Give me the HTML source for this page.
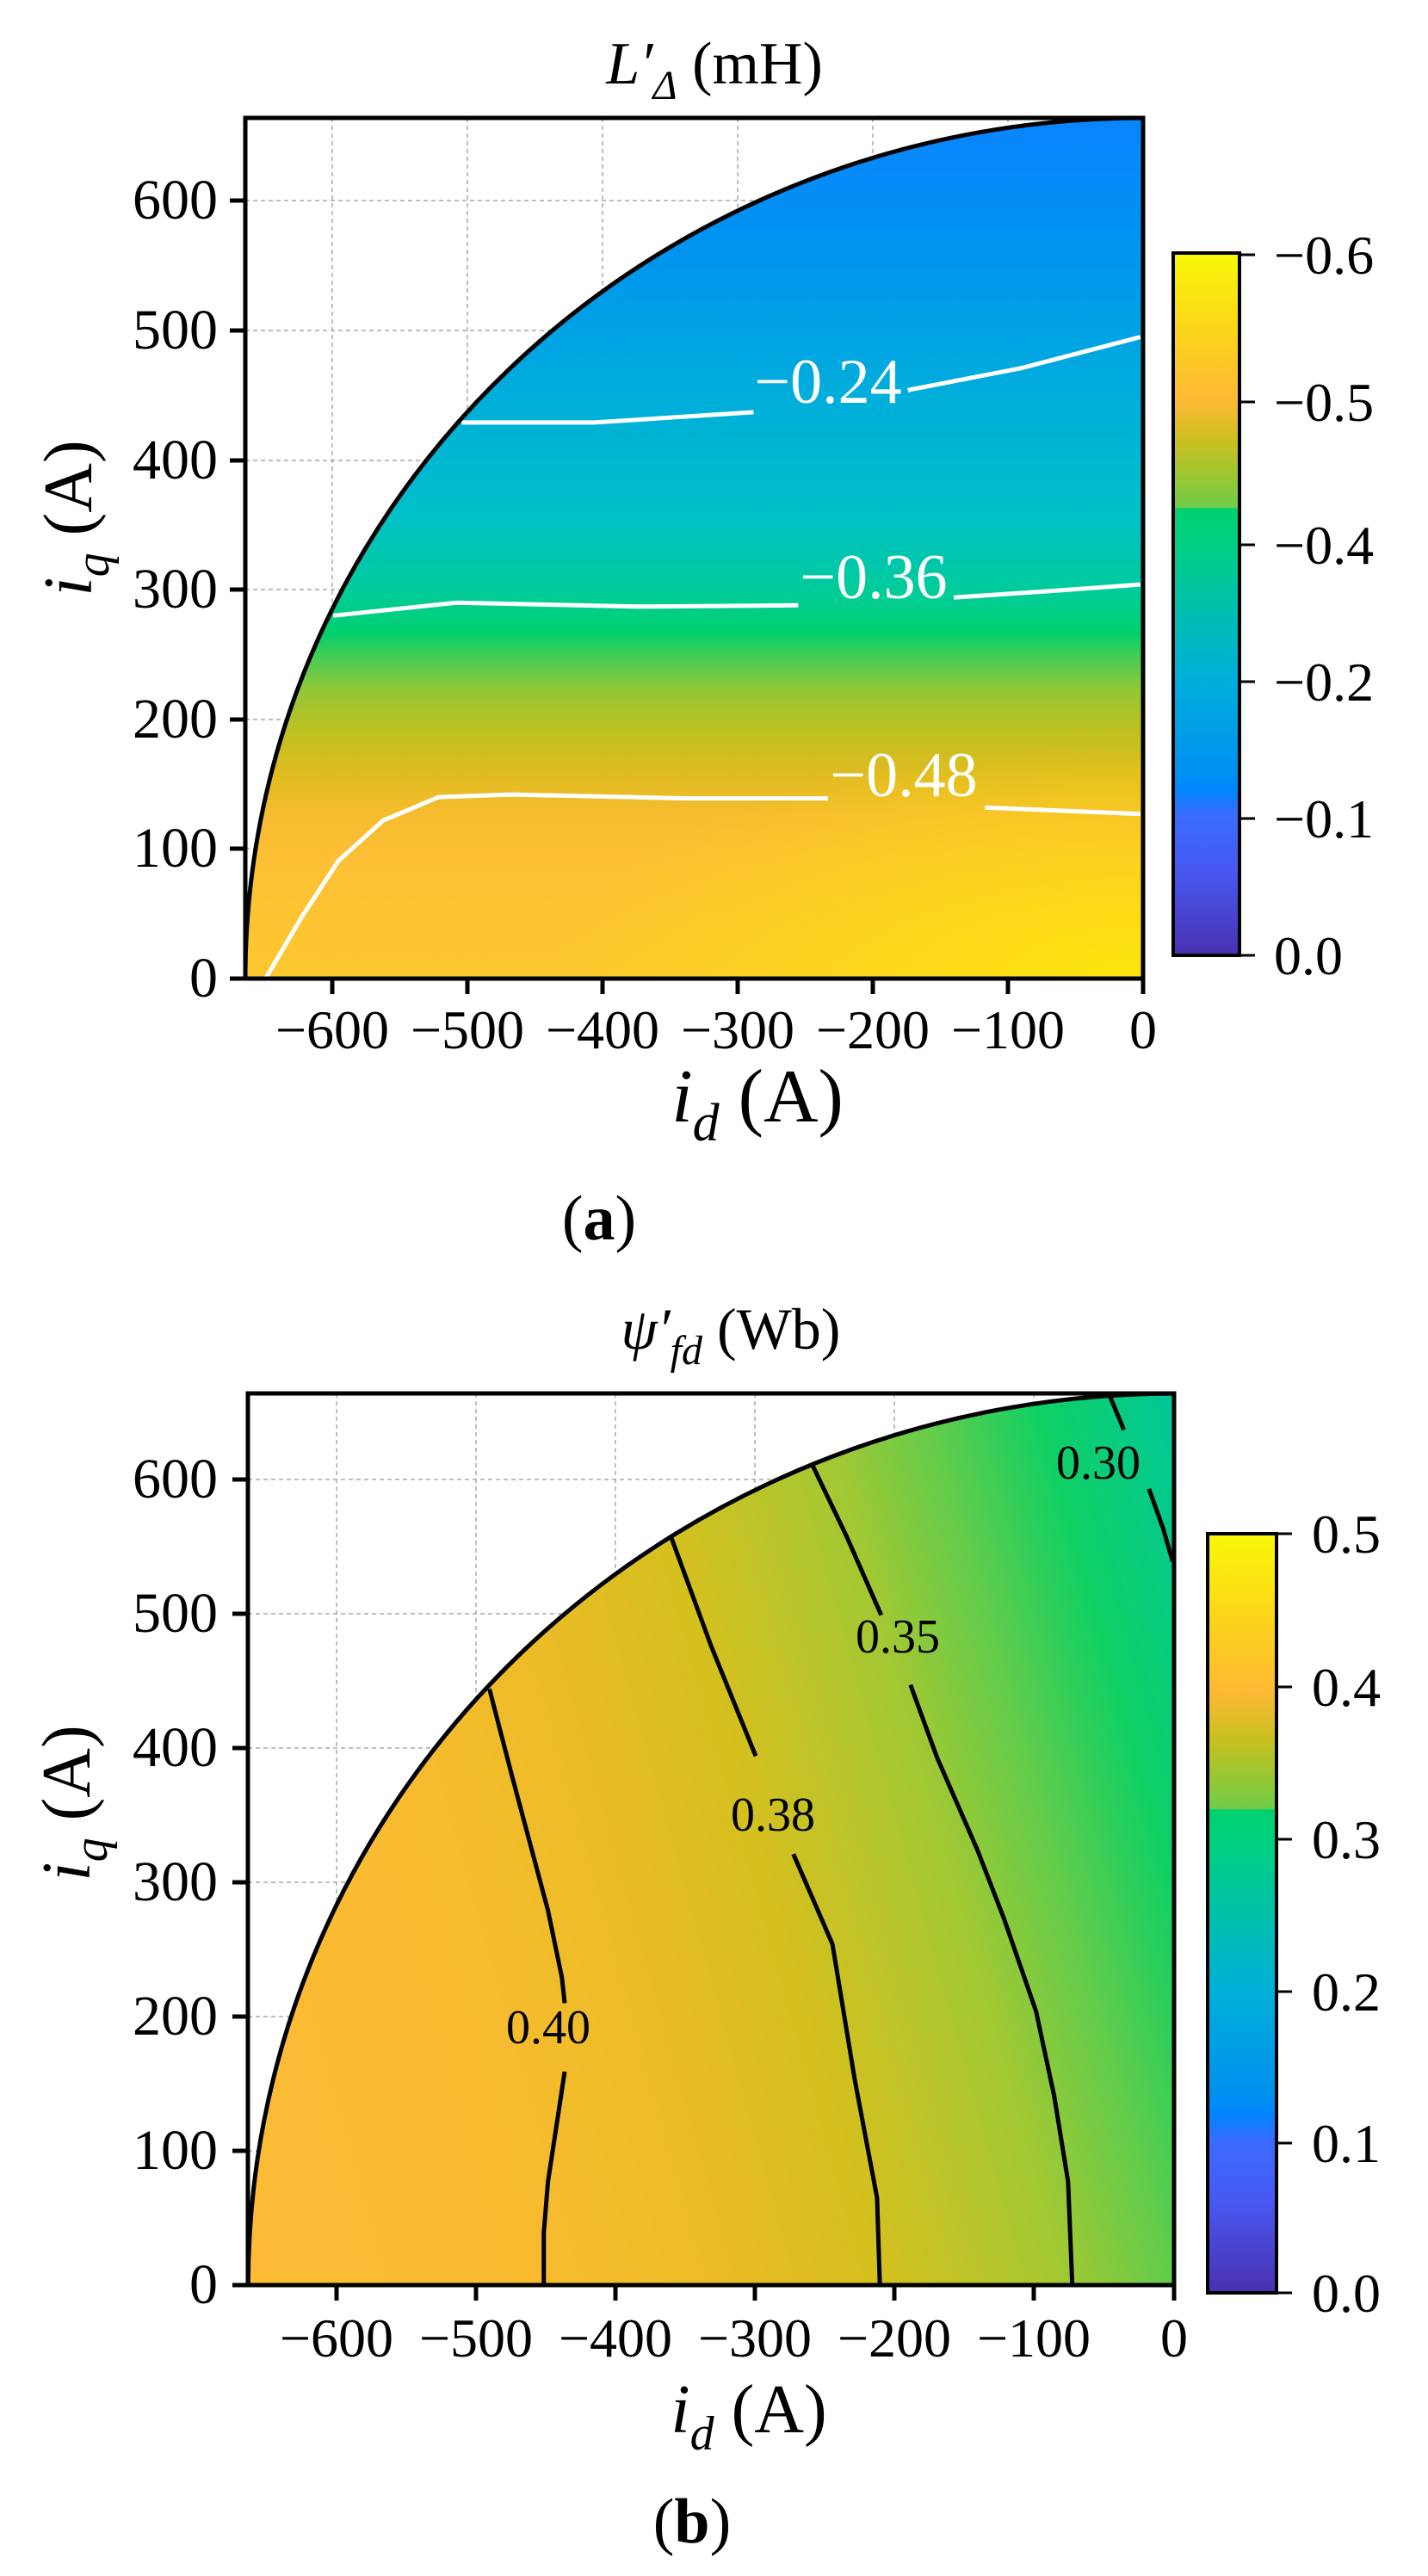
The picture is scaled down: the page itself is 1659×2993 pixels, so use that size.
<!DOCTYPE html>
<html><head><meta charset="utf-8"><style>
html,body{margin:0;padding:0;background:#fff;}
svg{display:block;font-family:"Liberation Serif",serif;}
</style></head><body>
<svg width="1659" height="2993" viewBox="0 0 1659 2993" xmlns="http://www.w3.org/2000/svg">
<defs>
  <linearGradient id="gA" gradientUnits="userSpaceOnUse" x1="0" y1="664" x2="0" y2="0">
    <stop offset="0" stop-color="#0a84ff"/>
    <stop offset="0.163" stop-color="#0095ee"/>
    <stop offset="0.313" stop-color="#00acdc"/>
    <stop offset="0.463" stop-color="#00c0c8"/>
    <stop offset="0.553" stop-color="#00cc98"/>
    <stop offset="0.598" stop-color="#00d070"/>
    <stop offset="0.623" stop-color="#40cc58"/>
    <stop offset="0.663" stop-color="#90c838"/>
    <stop offset="0.713" stop-color="#c0c020"/>
    <stop offset="0.763" stop-color="#e0bc20"/>
    <stop offset="0.813" stop-color="#f8bc30"/>
    <stop offset="0.863" stop-color="#fdc034"/>
    <stop offset="1" stop-color="#fdc830"/>
  </linearGradient>
  <radialGradient id="gAy" gradientUnits="userSpaceOnUse" cx="0" cy="0" r="400" gradientTransform="scale(1.1 0.45)">
    <stop offset="0" stop-color="#fce40c" stop-opacity="1"/>
    <stop offset="1" stop-color="#fce40c" stop-opacity="0"/>
  </radialGradient>
  <linearGradient id="gB" gradientUnits="userSpaceOnUse" x1="-619" y1="-167" x2="167" y2="45">
    <stop offset="0" stop-color="#fdbb36"/>
    <stop offset="0.25" stop-color="#f8bb30"/>
    <stop offset="0.4" stop-color="#ecbc26"/>
    <stop offset="0.54" stop-color="#d4c01e"/>
    <stop offset="0.62" stop-color="#bcc42a"/>
    <stop offset="0.7" stop-color="#a0c834"/>
    <stop offset="0.79" stop-color="#60cc4c"/>
    <stop offset="0.88" stop-color="#10d064"/>
    <stop offset="1" stop-color="#00c898"/>
  </linearGradient>
  <linearGradient id="cbA" x1="0" y1="0" x2="0" y2="1">
    <stop offset="0" stop-color="#f8f808"/>
    <stop offset="0.10" stop-color="#fcd818"/>
    <stop offset="0.21" stop-color="#fdb935"/>
    <stop offset="0.27" stop-color="#c8c020"/>
    <stop offset="0.33" stop-color="#90c838"/>
    <stop offset="0.362" stop-color="#70cc48"/>
    <stop offset="0.364" stop-color="#00d070"/>
    <stop offset="0.41" stop-color="#00d080"/>
    <stop offset="0.6" stop-color="#00b0d8"/>
    <stop offset="0.74" stop-color="#0090f0"/>
    <stop offset="0.765" stop-color="#0084ff"/>
    <stop offset="0.8" stop-color="#3a6cff"/>
    <stop offset="0.88" stop-color="#4858f0"/>
    <stop offset="1" stop-color="#4a30b0"/>
  </linearGradient>
</defs>

<!-- ========== PLOT A ========== -->
<g stroke="#aaa" stroke-width="1.5" stroke-dasharray="5,4">
  <line x1="386" y1="137" x2="386" y2="1137"/><line x1="543" y1="137" x2="543" y2="1137"/>
  <line x1="700" y1="137" x2="700" y2="1137"/><line x1="857" y1="137" x2="857" y2="1137"/>
  <line x1="1014" y1="137" x2="1014" y2="1137"/><line x1="1171" y1="137" x2="1171" y2="1137"/>
  <line x1="285" y1="986" x2="1328" y2="986"/><line x1="285" y1="836" x2="1328" y2="836"/>
  <line x1="285" y1="685" x2="1328" y2="685"/><line x1="285" y1="535" x2="1328" y2="535"/>
  <line x1="285" y1="384" x2="1328" y2="384"/><line x1="285" y1="233" x2="1328" y2="233"/>
</g>
<g transform="translate(1328 1137) scale(1.5708 -1.506)">
  <path d="M-664 0 A664 664 0 0 0 0 664 L0 0 Z" fill="url(#gA)"/>
  <path d="M-664 0 A664 664 0 0 0 0 664 L0 0 Z" fill="url(#gAy)"/>
  <g fill="none" stroke="#fff" stroke-width="5" stroke-linejoin="round">
    <polyline vector-effect="non-scaling-stroke" points="-504,429 -406,429 -288,437"/>
    <polyline vector-effect="non-scaling-stroke" points="-174,454 -90,471 -2,495"/>
    <polyline vector-effect="non-scaling-stroke" points="-599,280 -508,290 -373,287 -255,288"/>
    <polyline vector-effect="non-scaling-stroke" points="-140,294 -69,299 -2,304"/>
    <polyline vector-effect="non-scaling-stroke" points="-649,0 -622,48 -595,91 -562,122 -521,140 -467,142 -339,139 -233,139"/>
    <polyline vector-effect="non-scaling-stroke" points="-117,132 -2,127"/>
  </g>
  <path d="M-664 0 A664 664 0 0 0 0 664" fill="none" stroke="#000" stroke-width="5" vector-effect="non-scaling-stroke"/>
</g>
<g fill="#fff" font-size="74" text-anchor="middle">
  <text x="962" y="468">−0.24</text>
  <text x="1015" y="695">−0.36</text>
  <text x="1050" y="925">−0.48</text>
</g>
<rect x="285" y="137" width="1043" height="1000" fill="none" stroke="#000" stroke-width="5"/>
<g stroke="#000" stroke-width="5">
  <line x1="386" y1="1137" x2="386" y2="1155"/><line x1="543" y1="1137" x2="543" y2="1155"/>
  <line x1="700" y1="1137" x2="700" y2="1155"/><line x1="857" y1="1137" x2="857" y2="1155"/>
  <line x1="1014" y1="1137" x2="1014" y2="1155"/><line x1="1171" y1="1137" x2="1171" y2="1155"/>
  <line x1="1328" y1="1137" x2="1328" y2="1155"/>
  <line x1="267" y1="1137" x2="285" y2="1137"/><line x1="267" y1="986" x2="285" y2="986"/>
  <line x1="267" y1="836" x2="285" y2="836"/><line x1="267" y1="685" x2="285" y2="685"/>
  <line x1="267" y1="535" x2="285" y2="535"/><line x1="267" y1="384" x2="285" y2="384"/>
  <line x1="267" y1="233" x2="285" y2="233"/>
</g>
<g font-size="64" text-anchor="middle">
  <text x="386" y="1218">−600</text><text x="543" y="1218">−500</text>
  <text x="700" y="1218">−400</text><text x="857" y="1218">−300</text>
  <text x="1014" y="1218">−200</text><text x="1171" y="1218">−100</text>
  <text x="1328" y="1218">0</text>
</g>
<g font-size="66" text-anchor="end">
  <text x="253" y="1158">0</text><text x="253" y="1007">100</text>
  <text x="253" y="857">200</text><text x="253" y="706">300</text>
  <text x="253" y="556">400</text><text x="253" y="405">500</text>
  <text x="253" y="254">600</text>
</g>
<text x="880" y="1303" font-size="88" text-anchor="middle"><tspan font-style="italic">i</tspan><tspan font-style="italic" font-size="62" dy="22">d</tspan><tspan dy="-22"> (A)</tspan></text>
<text transform="translate(106 602) rotate(-90)" font-size="80" text-anchor="middle"><tspan font-style="italic">i</tspan><tspan font-style="italic" font-size="56" dy="20">q</tspan><tspan dy="-20"> (A)</tspan></text>
<text x="830" y="97" font-size="70" text-anchor="middle"><tspan font-style="italic">L′</tspan><tspan font-style="italic" font-size="48" dy="18">Δ</tspan><tspan dy="-18"> (mH)</tspan></text>
<text x="696" y="1440" font-size="74" text-anchor="middle">(<tspan font-weight="bold">a</tspan>)</text>
<!-- colorbar A -->
<rect x="1363" y="294" width="77" height="816" fill="url(#cbA)" stroke="#000" stroke-width="4"/>
<g stroke="#000" stroke-width="3">
  <line x1="1440" y1="296" x2="1458" y2="296"/><line x1="1440" y1="467" x2="1458" y2="467"/>
  <line x1="1440" y1="633" x2="1458" y2="633"/><line x1="1440" y1="792" x2="1458" y2="792"/>
  <line x1="1440" y1="951" x2="1458" y2="951"/><line x1="1440" y1="1110" x2="1458" y2="1110"/>
</g>
<g font-size="64">
  <text x="1480" y="318">−0.6</text><text x="1480" y="489">−0.5</text>
  <text x="1480" y="655">−0.4</text><text x="1480" y="814">−0.2</text>
  <text x="1480" y="973">−0.1</text><text x="1480" y="1132">0.0</text>
</g>

<!-- ========== PLOT B ========== -->
<g stroke="#aaa" stroke-width="1.5" stroke-dasharray="5,4">
  <line x1="391" y1="1619" x2="391" y2="2655"/><line x1="553" y1="1619" x2="553" y2="2655"/>
  <line x1="715" y1="1619" x2="715" y2="2655"/><line x1="877" y1="1619" x2="877" y2="2655"/>
  <line x1="1039" y1="1619" x2="1039" y2="2655"/><line x1="1201" y1="1619" x2="1201" y2="2655"/>
  <line x1="288" y1="2499" x2="1364" y2="2499"/><line x1="288" y1="2343" x2="1364" y2="2343"/>
  <line x1="288" y1="2187" x2="1364" y2="2187"/><line x1="288" y1="2031" x2="1364" y2="2031"/>
  <line x1="288" y1="1875" x2="1364" y2="1875"/><line x1="288" y1="1719" x2="1364" y2="1719"/>
</g>
<g transform="translate(1364 2655) scale(1.620 -1.560)">
  <path d="M-664 0 A664 664 0 0 0 0 664 L0 0 Z" fill="url(#gB)"/>
  <g fill="none" stroke="#000" stroke-width="5" stroke-linejoin="round">
    <polyline vector-effect="non-scaling-stroke" points="-491,444 -475,380 -449,279 -439,229 -437,210"/>
    <polyline vector-effect="non-scaling-stroke" points="-437,159 -449,77 -452,39 -452,0"/>
    <polyline vector-effect="non-scaling-stroke" points="-361,558 -332,476 -300,394"/>
    <polyline vector-effect="non-scaling-stroke" points="-273,321 -245,254 -229,153 -213,65 -211,0"/>
    <polyline vector-effect="non-scaling-stroke" points="-259,610 -235,558 -210,499"/>
    <polyline vector-effect="non-scaling-stroke" points="-189,447 -170,393 -141,324 -122,273 -99,204 -86,141 -76,77 -73,0"/>
    <polyline vector-effect="non-scaling-stroke" points="-46,662 -36,637"/>
    <polyline vector-effect="non-scaling-stroke" points="-18,593 -8,564 -1,539"/>
  </g>
  <path d="M-664 0 A664 664 0 0 0 0 664" fill="none" stroke="#000" stroke-width="5" vector-effect="non-scaling-stroke"/>
</g>
<g font-size="56" text-anchor="middle">
  <text x="637" y="2374">0.40</text>
  <text x="898" y="2127">0.38</text>
  <text x="1043" y="1920">0.35</text>
  <text x="1276" y="1718">0.30</text>
</g>
<rect x="288" y="1619" width="1076" height="1036" fill="none" stroke="#000" stroke-width="5"/>
<g stroke="#000" stroke-width="5">
  <line x1="391" y1="2655" x2="391" y2="2673"/><line x1="553" y1="2655" x2="553" y2="2673"/>
  <line x1="715" y1="2655" x2="715" y2="2673"/><line x1="877" y1="2655" x2="877" y2="2673"/>
  <line x1="1039" y1="2655" x2="1039" y2="2673"/><line x1="1201" y1="2655" x2="1201" y2="2673"/>
  <line x1="1364" y1="2655" x2="1364" y2="2673"/>
  <line x1="270" y1="2655" x2="288" y2="2655"/><line x1="270" y1="2499" x2="288" y2="2499"/>
  <line x1="270" y1="2343" x2="288" y2="2343"/><line x1="270" y1="2187" x2="288" y2="2187"/>
  <line x1="270" y1="2031" x2="288" y2="2031"/><line x1="270" y1="1875" x2="288" y2="1875"/>
  <line x1="270" y1="1719" x2="288" y2="1719"/>
</g>
<g font-size="64" text-anchor="middle">
  <text x="391" y="2738">−600</text><text x="553" y="2738">−500</text>
  <text x="715" y="2738">−400</text><text x="877" y="2738">−300</text>
  <text x="1039" y="2738">−200</text><text x="1201" y="2738">−100</text>
  <text x="1364" y="2738">0</text>
</g>
<g font-size="66" text-anchor="end">
  <text x="253" y="2676">0</text><text x="253" y="2520">100</text>
  <text x="253" y="2364">200</text><text x="253" y="2208">300</text>
  <text x="253" y="2052">400</text><text x="253" y="1896">500</text>
  <text x="253" y="1740">600</text>
</g>
<text x="870" y="2826" font-size="80" text-anchor="middle"><tspan font-style="italic">i</tspan><tspan font-style="italic" font-size="56" dy="20">d</tspan><tspan dy="-20"> (A)</tspan></text>
<text transform="translate(104 2095) rotate(-90)" font-size="80" text-anchor="middle"><tspan font-style="italic">i</tspan><tspan font-style="italic" font-size="56" dy="20">q</tspan><tspan dy="-20"> (A)</tspan></text>
<text x="849" y="1567" font-size="68" text-anchor="middle"><tspan font-style="italic">ψ′</tspan><tspan font-style="italic" font-size="48" dy="18">fd</tspan><tspan dy="-18"> (Wb)</tspan></text>
<text x="804" y="2954" font-size="74" text-anchor="middle">(<tspan font-weight="bold">b</tspan>)</text>
<!-- colorbar B -->
<rect x="1403" y="1782" width="80" height="882" fill="url(#cbA)" stroke="#000" stroke-width="4"/>
<g stroke="#000" stroke-width="3">
  <line x1="1483" y1="1782" x2="1501" y2="1782"/><line x1="1483" y1="1960" x2="1501" y2="1960"/>
  <line x1="1483" y1="2137" x2="1501" y2="2137"/><line x1="1483" y1="2314" x2="1501" y2="2314"/>
  <line x1="1483" y1="2490" x2="1501" y2="2490"/><line x1="1483" y1="2664" x2="1501" y2="2664"/>
</g>
<g font-size="64">
  <text x="1524" y="1804">0.5</text><text x="1524" y="1982">0.4</text>
  <text x="1524" y="2159">0.3</text><text x="1524" y="2336">0.2</text>
  <text x="1524" y="2512">0.1</text><text x="1524" y="2686">0.0</text>
</g>
</svg>
</body></html>
